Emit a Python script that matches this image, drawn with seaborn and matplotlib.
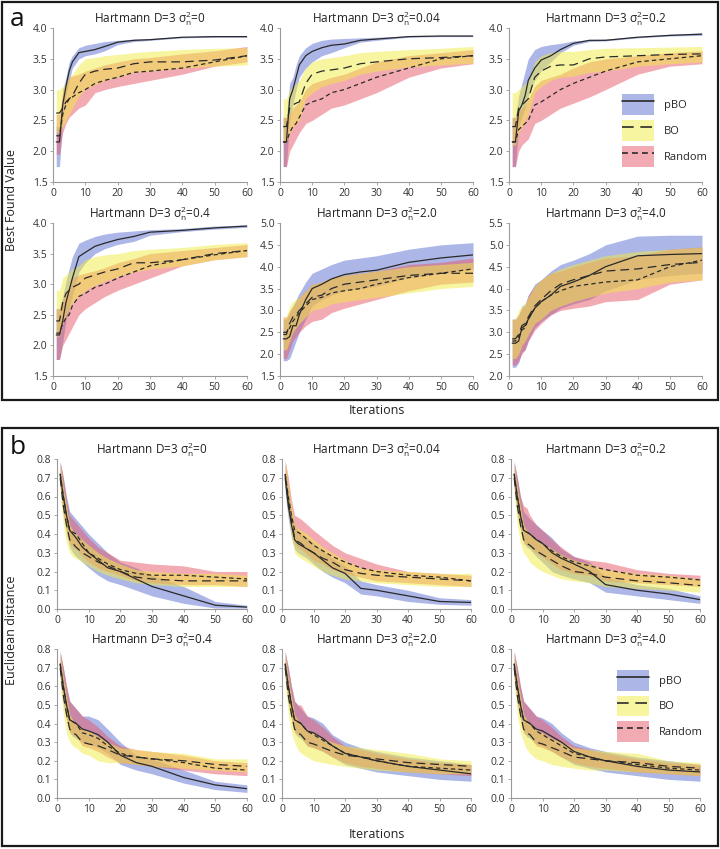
import matplotlib
matplotlib.use("Agg")
import matplotlib.pyplot as plt
import seaborn as sns
from matplotlib.patches import Patch, Rectangle
from matplotlib.lines import Line2D
from matplotlib.legend_handler import HandlerTuple

iters = [1, 2, 3, 4, 5, 6, 8, 10, 13, 16, 20, 25, 30, 40, 50, 60]

# ---- panel a : best found value ----
a0_pbo_m  = [2.15, 2.15, 2.75, 3.05, 3.30, 3.45, 3.60, 3.62, 3.65, 3.70, 3.77, 3.80, 3.81, 3.85, 3.86, 3.86]
a0_pbo_lo = [1.75, 1.75, 2.50, 2.90, 3.15, 3.35, 3.50, 3.55, 3.58, 3.63, 3.73, 3.78, 3.80, 3.84, 3.85, 3.85]
a0_pbo_hi = [2.40, 2.40, 3.00, 3.20, 3.45, 3.55, 3.68, 3.72, 3.75, 3.78, 3.80, 3.82, 3.83, 3.86, 3.87, 3.87]
a0_bo_m   = [2.62, 2.62, 2.70, 2.80, 2.85, 2.90, 3.10, 3.25, 3.30, 3.33, 3.35, 3.42, 3.45, 3.45, 3.48, 3.55]
a0_bo_lo  = [2.30, 2.30, 2.40, 2.50, 2.60, 2.70, 2.90, 3.00, 3.08, 3.15, 3.20, 3.28, 3.30, 3.35, 3.38, 3.40]
a0_bo_hi  = [3.00, 3.00, 3.05, 3.10, 3.20, 3.25, 3.40, 3.50, 3.52, 3.55, 3.57, 3.60, 3.62, 3.65, 3.67, 3.68]
a0_rnd_m  = [2.25, 2.25, 2.60, 2.75, 2.85, 2.88, 2.95, 3.00, 3.10, 3.15, 3.20, 3.28, 3.30, 3.35, 3.45, 3.55]
a0_rnd_lo = [1.95, 1.95, 2.30, 2.45, 2.55, 2.60, 2.70, 2.75, 2.95, 3.00, 3.05, 3.10, 3.15, 3.25, 3.38, 3.45]
a0_rnd_hi = [2.60, 2.60, 2.95, 3.10, 3.20, 3.22, 3.25, 3.30, 3.35, 3.40, 3.45, 3.50, 3.52, 3.58, 3.63, 3.70]

a1_pbo_m  = [2.15, 2.15, 2.85, 3.00, 3.20, 3.40, 3.55, 3.62, 3.68, 3.72, 3.74, 3.80, 3.82, 3.86, 3.87, 3.87]
a1_pbo_lo = [1.75, 1.75, 2.50, 2.75, 3.00, 3.20, 3.35, 3.45, 3.55, 3.60, 3.68, 3.77, 3.80, 3.85, 3.86, 3.86]
a1_pbo_hi = [2.55, 2.55, 3.10, 3.20, 3.40, 3.55, 3.68, 3.75, 3.80, 3.82, 3.83, 3.84, 3.85, 3.87, 3.88, 3.88]
a1_bo_m   = [2.40, 2.40, 2.70, 2.75, 2.78, 2.80, 3.10, 3.25, 3.30, 3.32, 3.35, 3.42, 3.45, 3.50, 3.52, 3.55]
a1_bo_lo  = [2.15, 2.15, 2.30, 2.40, 2.45, 2.50, 2.85, 2.95, 3.05, 3.10, 3.15, 3.25, 3.30, 3.37, 3.40, 3.43]
a1_bo_hi  = [2.85, 2.85, 3.00, 3.05, 3.10, 3.15, 3.35, 3.45, 3.50, 3.52, 3.55, 3.60, 3.62, 3.65, 3.67, 3.70]
a1_rnd_m  = [2.15, 2.15, 2.30, 2.40, 2.45, 2.55, 2.75, 2.80, 2.85, 2.95, 3.00, 3.10, 3.20, 3.35, 3.50, 3.55]
a1_rnd_lo = [1.75, 1.75, 2.00, 2.10, 2.20, 2.30, 2.45, 2.50, 2.60, 2.70, 2.75, 2.85, 2.95, 3.20, 3.35, 3.42]
a1_rnd_hi = [2.55, 2.55, 2.60, 2.70, 2.75, 2.80, 3.00, 3.10, 3.15, 3.20, 3.25, 3.35, 3.45, 3.55, 3.60, 3.65]

a2_pbo_m  = [2.15, 2.15, 2.65, 2.75, 2.90, 3.15, 3.35, 3.48, 3.55, 3.65, 3.75, 3.80, 3.80, 3.85, 3.88, 3.90]
a2_pbo_lo = [1.75, 1.75, 2.40, 2.55, 2.70, 2.90, 3.15, 3.30, 3.45, 3.60, 3.72, 3.78, 3.79, 3.84, 3.87, 3.88]
a2_pbo_hi = [2.55, 2.55, 2.90, 3.10, 3.30, 3.50, 3.65, 3.70, 3.73, 3.75, 3.79, 3.81, 3.82, 3.86, 3.90, 3.92]
a2_bo_m   = [2.40, 2.40, 2.70, 2.75, 2.80, 2.85, 3.20, 3.30, 3.38, 3.40, 3.40, 3.50, 3.53, 3.55, 3.57, 3.58]
a2_bo_lo  = [2.10, 2.10, 2.30, 2.40, 2.50, 2.60, 2.95, 3.05, 3.15, 3.20, 3.22, 3.28, 3.30, 3.38, 3.42, 3.45]
a2_bo_hi  = [2.95, 2.95, 3.00, 3.05, 3.10, 3.15, 3.45, 3.55, 3.60, 3.62, 3.62, 3.65, 3.67, 3.68, 3.69, 3.70]
a2_rnd_m  = [2.15, 2.15, 2.35, 2.40, 2.45, 2.50, 2.75, 2.80, 2.90, 3.00, 3.10, 3.20, 3.30, 3.45, 3.50, 3.55]
a2_rnd_lo = [1.75, 1.75, 2.00, 2.10, 2.15, 2.20, 2.45, 2.50, 2.60, 2.70, 2.78, 2.88, 3.00, 3.25, 3.38, 3.42]
a2_rnd_hi = [2.55, 2.55, 2.65, 2.70, 2.75, 2.85, 3.05, 3.15, 3.20, 3.25, 3.35, 3.45, 3.50, 3.55, 3.60, 3.63]

a3_pbo_m  = [2.17, 2.17, 2.40, 2.70, 2.90, 3.10, 3.45, 3.52, 3.62, 3.67, 3.73, 3.78, 3.85, 3.88, 3.92, 3.95]
a3_pbo_lo = [1.77, 1.77, 2.05, 2.40, 2.60, 2.80, 3.20, 3.35, 3.50, 3.58, 3.65, 3.70, 3.80, 3.86, 3.90, 3.93]
a3_pbo_hi = [2.60, 2.60, 2.80, 3.05, 3.25, 3.45, 3.67, 3.72, 3.78, 3.82, 3.85, 3.87, 3.89, 3.91, 3.95, 3.97]
a3_bo_m   = [2.40, 2.40, 2.70, 2.85, 2.90, 2.95, 3.00, 3.10, 3.15, 3.20, 3.25, 3.35, 3.35, 3.40, 3.50, 3.55]
a3_bo_lo  = [2.15, 2.15, 2.35, 2.50, 2.60, 2.70, 2.80, 2.90, 2.98, 3.05, 3.12, 3.20, 3.25, 3.30, 3.40, 3.45]
a3_bo_hi  = [2.90, 2.90, 3.10, 3.15, 3.20, 3.25, 3.30, 3.40, 3.45, 3.48, 3.50, 3.55, 3.57, 3.60, 3.65, 3.68]
a3_rnd_m  = [2.20, 2.20, 2.35, 2.45, 2.50, 2.65, 2.80, 2.85, 2.95, 3.00, 3.10, 3.20, 3.30, 3.40, 3.48, 3.55]
a3_rnd_lo = [1.77, 1.77, 2.00, 2.10, 2.20, 2.30, 2.50, 2.60, 2.70, 2.80, 2.90, 3.00, 3.10, 3.30, 3.40, 3.45]
a3_rnd_hi = [2.60, 2.60, 2.75, 2.85, 2.95, 3.10, 3.15, 3.18, 3.22, 3.27, 3.35, 3.42, 3.50, 3.55, 3.60, 3.65]

a4_pbo_m  = [2.35, 2.35, 2.40, 2.65, 2.65, 2.90, 3.25, 3.50, 3.60, 3.72, 3.82, 3.88, 3.92, 4.10, 4.20, 4.27]
a4_pbo_lo = [1.85, 1.85, 1.90, 2.10, 2.30, 2.50, 2.80, 3.10, 3.25, 3.35, 3.45, 3.50, 3.55, 3.75, 3.85, 3.95]
a4_pbo_hi = [2.80, 2.80, 2.95, 3.10, 3.25, 3.40, 3.65, 3.85, 3.95, 4.05, 4.15, 4.20, 4.25, 4.40, 4.50, 4.55]
a4_bo_m   = [2.45, 2.45, 2.70, 2.85, 2.90, 3.00, 3.15, 3.30, 3.35, 3.50, 3.60, 3.65, 3.70, 3.80, 3.85, 3.85]
a4_bo_lo  = [2.10, 2.10, 2.30, 2.50, 2.60, 2.70, 2.85, 3.00, 3.05, 3.15, 3.20, 3.25, 3.30, 3.40, 3.50, 3.55]
a4_bo_hi  = [2.85, 2.85, 3.10, 3.20, 3.25, 3.30, 3.45, 3.60, 3.65, 3.75, 3.80, 3.85, 3.90, 4.00, 4.05, 4.10]
a4_rnd_m  = [2.50, 2.50, 2.60, 2.75, 2.85, 2.95, 3.10, 3.25, 3.30, 3.40, 3.45, 3.50, 3.60, 3.75, 3.85, 3.95]
a4_rnd_lo = [1.90, 1.90, 2.10, 2.30, 2.40, 2.50, 2.65, 2.75, 2.80, 2.95, 3.05, 3.15, 3.25, 3.45, 3.60, 3.65]
a4_rnd_hi = [2.85, 2.85, 3.00, 3.10, 3.20, 3.30, 3.45, 3.60, 3.65, 3.75, 3.80, 3.85, 3.90, 4.05, 4.10, 4.20]

a5_pbo_m  = [2.75, 2.75, 2.80, 3.10, 3.15, 3.30, 3.55, 3.70, 3.85, 4.05, 4.15, 4.30, 4.50, 4.75, 4.78, 4.80]
a5_pbo_lo = [2.20, 2.20, 2.30, 2.55, 2.60, 2.80, 3.10, 3.25, 3.40, 3.55, 3.65, 3.75, 3.95, 4.20, 4.30, 4.35]
a5_pbo_hi = [3.30, 3.30, 3.40, 3.60, 3.65, 3.85, 4.10, 4.20, 4.40, 4.55, 4.65, 4.80, 5.00, 5.20, 5.22, 5.22]
a5_bo_m   = [2.85, 2.85, 2.95, 3.15, 3.20, 3.35, 3.60, 3.75, 3.95, 4.10, 4.20, 4.30, 4.40, 4.45, 4.55, 4.60]
a5_bo_lo  = [2.40, 2.40, 2.50, 2.70, 2.80, 2.95, 3.20, 3.30, 3.50, 3.60, 3.70, 3.80, 3.90, 4.00, 4.15, 4.20]
a5_bo_hi  = [3.30, 3.30, 3.50, 3.60, 3.65, 3.80, 4.05, 4.20, 4.35, 4.45, 4.55, 4.65, 4.75, 4.85, 4.90, 4.95]
a5_rnd_m  = [2.80, 2.80, 2.90, 3.05, 3.10, 3.30, 3.55, 3.70, 3.85, 3.95, 4.05, 4.10, 4.15, 4.20, 4.50, 4.65]
a5_rnd_lo = [2.25, 2.25, 2.35, 2.50, 2.60, 2.80, 3.05, 3.20, 3.40, 3.50, 3.55, 3.60, 3.70, 3.75, 4.10, 4.20]
a5_rnd_hi = [3.30, 3.30, 3.40, 3.55, 3.60, 3.85, 4.05, 4.20, 4.35, 4.40, 4.50, 4.60, 4.70, 4.75, 4.90, 4.95]

# ---- panel b : euclidean distance ----
b0_pbo_m  = [0.72, 0.60, 0.50, 0.42, 0.40, 0.38, 0.33, 0.30, 0.26, 0.22, 0.20, 0.16, 0.12, 0.07, 0.02, 0.01]
b0_pbo_lo = [0.65, 0.50, 0.40, 0.33, 0.30, 0.28, 0.25, 0.22, 0.18, 0.15, 0.13, 0.10, 0.07, 0.03, 0.005, 0.005]
b0_pbo_hi = [0.78, 0.70, 0.60, 0.52, 0.50, 0.48, 0.44, 0.40, 0.35, 0.30, 0.25, 0.22, 0.18, 0.12, 0.04, 0.02]
b0_bo_m   = [0.70, 0.55, 0.45, 0.37, 0.35, 0.33, 0.30, 0.28, 0.25, 0.23, 0.20, 0.17, 0.16, 0.15, 0.15, 0.15]
b0_bo_lo  = [0.62, 0.45, 0.35, 0.30, 0.28, 0.27, 0.25, 0.23, 0.20, 0.18, 0.16, 0.14, 0.13, 0.12, 0.12, 0.12]
b0_bo_hi  = [0.78, 0.65, 0.55, 0.45, 0.42, 0.40, 0.37, 0.34, 0.30, 0.27, 0.24, 0.21, 0.20, 0.19, 0.19, 0.18]
b0_rnd_m  = [0.72, 0.60, 0.50, 0.42, 0.41, 0.40, 0.35, 0.30, 0.27, 0.24, 0.21, 0.19, 0.18, 0.18, 0.17, 0.16]
b0_rnd_lo = [0.65, 0.50, 0.42, 0.35, 0.33, 0.32, 0.28, 0.25, 0.22, 0.20, 0.18, 0.15, 0.14, 0.13, 0.13, 0.12]
b0_rnd_hi = [0.79, 0.70, 0.58, 0.50, 0.48, 0.46, 0.42, 0.38, 0.33, 0.30, 0.26, 0.25, 0.24, 0.23, 0.20, 0.20]

b1_pbo_m  = [0.70, 0.55, 0.45, 0.37, 0.35, 0.34, 0.32, 0.30, 0.26, 0.22, 0.19, 0.11, 0.10, 0.07, 0.04, 0.035]
b1_pbo_lo = [0.62, 0.48, 0.38, 0.32, 0.30, 0.29, 0.27, 0.24, 0.20, 0.17, 0.14, 0.08, 0.07, 0.04, 0.025, 0.02]
b1_pbo_hi = [0.78, 0.65, 0.52, 0.45, 0.42, 0.40, 0.38, 0.35, 0.31, 0.27, 0.23, 0.15, 0.13, 0.10, 0.06, 0.05]
b1_bo_m   = [0.72, 0.58, 0.47, 0.38, 0.36, 0.35, 0.32, 0.30, 0.27, 0.25, 0.21, 0.19, 0.18, 0.17, 0.16, 0.15]
b1_bo_lo  = [0.65, 0.50, 0.38, 0.30, 0.28, 0.27, 0.25, 0.23, 0.20, 0.18, 0.16, 0.15, 0.14, 0.13, 0.12, 0.12]
b1_bo_hi  = [0.79, 0.67, 0.55, 0.45, 0.43, 0.42, 0.40, 0.37, 0.33, 0.30, 0.26, 0.22, 0.21, 0.20, 0.19, 0.19]
b1_rnd_m  = [0.72, 0.60, 0.50, 0.42, 0.41, 0.40, 0.37, 0.34, 0.31, 0.28, 0.25, 0.22, 0.20, 0.18, 0.17, 0.15]
b1_rnd_lo = [0.65, 0.52, 0.42, 0.35, 0.33, 0.32, 0.29, 0.26, 0.24, 0.21, 0.19, 0.17, 0.15, 0.14, 0.13, 0.12]
b1_rnd_hi = [0.79, 0.70, 0.58, 0.50, 0.49, 0.48, 0.45, 0.42, 0.38, 0.34, 0.30, 0.27, 0.24, 0.20, 0.19, 0.18]

b2_pbo_m  = [0.72, 0.60, 0.50, 0.42, 0.41, 0.40, 0.37, 0.35, 0.30, 0.27, 0.24, 0.20, 0.13, 0.10, 0.08, 0.05]
b2_pbo_lo = [0.65, 0.50, 0.42, 0.35, 0.33, 0.32, 0.28, 0.25, 0.20, 0.18, 0.16, 0.14, 0.09, 0.07, 0.05, 0.03]
b2_pbo_hi = [0.78, 0.70, 0.60, 0.52, 0.50, 0.48, 0.45, 0.42, 0.38, 0.32, 0.28, 0.25, 0.17, 0.13, 0.11, 0.07]
b2_bo_m   = [0.70, 0.55, 0.45, 0.37, 0.35, 0.34, 0.31, 0.29, 0.26, 0.23, 0.20, 0.19, 0.17, 0.15, 0.14, 0.125]
b2_bo_lo  = [0.62, 0.45, 0.35, 0.30, 0.28, 0.25, 0.22, 0.20, 0.18, 0.16, 0.15, 0.14, 0.12, 0.11, 0.10, 0.09]
b2_bo_hi  = [0.78, 0.65, 0.55, 0.45, 0.42, 0.40, 0.37, 0.35, 0.32, 0.29, 0.26, 0.24, 0.21, 0.19, 0.18, 0.16]
b2_rnd_m  = [0.72, 0.60, 0.50, 0.42, 0.41, 0.40, 0.37, 0.35, 0.31, 0.28, 0.25, 0.23, 0.21, 0.18, 0.17, 0.155]
b2_rnd_lo = [0.65, 0.52, 0.43, 0.36, 0.34, 0.33, 0.30, 0.28, 0.24, 0.21, 0.19, 0.18, 0.15, 0.14, 0.13, 0.12]
b2_rnd_hi = [0.79, 0.70, 0.60, 0.55, 0.54, 0.50, 0.45, 0.42, 0.37, 0.33, 0.28, 0.26, 0.25, 0.21, 0.19, 0.18]

b3_pbo_m  = [0.72, 0.60, 0.50, 0.42, 0.41, 0.40, 0.37, 0.36, 0.34, 0.30, 0.23, 0.19, 0.17, 0.11, 0.07, 0.05]
b3_pbo_lo = [0.65, 0.50, 0.42, 0.35, 0.33, 0.32, 0.30, 0.29, 0.27, 0.24, 0.18, 0.15, 0.13, 0.08, 0.045, 0.03]
b3_pbo_hi = [0.78, 0.70, 0.60, 0.52, 0.50, 0.48, 0.44, 0.44, 0.42, 0.37, 0.30, 0.23, 0.21, 0.15, 0.09, 0.07]
b3_bo_m   = [0.70, 0.55, 0.45, 0.37, 0.35, 0.34, 0.30, 0.29, 0.28, 0.26, 0.23, 0.22, 0.21, 0.20, 0.18, 0.17]
b3_bo_lo  = [0.62, 0.45, 0.35, 0.30, 0.28, 0.27, 0.24, 0.23, 0.20, 0.19, 0.19, 0.18, 0.17, 0.16, 0.15, 0.14]
b3_bo_hi  = [0.78, 0.65, 0.55, 0.45, 0.42, 0.40, 0.37, 0.36, 0.33, 0.30, 0.27, 0.26, 0.25, 0.24, 0.21, 0.21]
b3_rnd_m  = [0.72, 0.60, 0.50, 0.42, 0.41, 0.40, 0.35, 0.34, 0.32, 0.28, 0.24, 0.22, 0.21, 0.19, 0.16, 0.15]
b3_rnd_lo = [0.65, 0.52, 0.43, 0.36, 0.34, 0.33, 0.28, 0.27, 0.25, 0.22, 0.19, 0.18, 0.17, 0.15, 0.13, 0.12]
b3_rnd_hi = [0.79, 0.70, 0.60, 0.52, 0.50, 0.48, 0.44, 0.42, 0.38, 0.33, 0.28, 0.26, 0.25, 0.23, 0.20, 0.19]

b4_pbo_m  = [0.72, 0.60, 0.50, 0.42, 0.41, 0.40, 0.36, 0.35, 0.32, 0.28, 0.24, 0.22, 0.20, 0.17, 0.15, 0.13]
b4_pbo_lo = [0.65, 0.50, 0.42, 0.35, 0.33, 0.32, 0.28, 0.27, 0.25, 0.22, 0.18, 0.16, 0.14, 0.12, 0.10, 0.09]
b4_pbo_hi = [0.78, 0.70, 0.60, 0.52, 0.50, 0.48, 0.44, 0.43, 0.40, 0.34, 0.30, 0.27, 0.25, 0.22, 0.20, 0.18]
b4_bo_m   = [0.70, 0.55, 0.45, 0.37, 0.35, 0.34, 0.30, 0.29, 0.27, 0.25, 0.23, 0.22, 0.21, 0.19, 0.18, 0.17]
b4_bo_lo  = [0.62, 0.45, 0.35, 0.30, 0.26, 0.24, 0.22, 0.20, 0.19, 0.18, 0.17, 0.16, 0.15, 0.14, 0.13, 0.13]
b4_bo_hi  = [0.78, 0.65, 0.55, 0.45, 0.42, 0.40, 0.37, 0.35, 0.32, 0.30, 0.28, 0.27, 0.26, 0.24, 0.21, 0.20]
b4_rnd_m  = [0.72, 0.60, 0.50, 0.42, 0.41, 0.40, 0.36, 0.34, 0.31, 0.28, 0.24, 0.22, 0.20, 0.17, 0.16, 0.15]
b4_rnd_lo = [0.65, 0.52, 0.43, 0.36, 0.34, 0.33, 0.28, 0.27, 0.25, 0.22, 0.19, 0.17, 0.16, 0.14, 0.13, 0.12]
b4_rnd_hi = [0.79, 0.70, 0.60, 0.52, 0.50, 0.50, 0.44, 0.42, 0.38, 0.33, 0.28, 0.26, 0.24, 0.21, 0.19, 0.18]

b5_pbo_m  = [0.72, 0.60, 0.50, 0.42, 0.41, 0.40, 0.37, 0.36, 0.33, 0.30, 0.25, 0.22, 0.20, 0.17, 0.15, 0.14]
b5_pbo_lo = [0.65, 0.50, 0.42, 0.35, 0.33, 0.32, 0.29, 0.28, 0.25, 0.22, 0.18, 0.16, 0.14, 0.12, 0.10, 0.09]
b5_pbo_hi = [0.78, 0.70, 0.60, 0.52, 0.50, 0.48, 0.44, 0.43, 0.40, 0.35, 0.30, 0.27, 0.25, 0.22, 0.20, 0.18]
b5_bo_m   = [0.70, 0.55, 0.45, 0.37, 0.35, 0.34, 0.30, 0.29, 0.27, 0.25, 0.22, 0.21, 0.20, 0.19, 0.17, 0.16]
b5_bo_lo  = [0.62, 0.45, 0.35, 0.30, 0.26, 0.24, 0.21, 0.20, 0.18, 0.17, 0.16, 0.15, 0.15, 0.14, 0.13, 0.12]
b5_bo_hi  = [0.78, 0.65, 0.55, 0.45, 0.42, 0.40, 0.37, 0.35, 0.32, 0.30, 0.27, 0.26, 0.25, 0.24, 0.20, 0.19]
b5_rnd_m  = [0.72, 0.60, 0.50, 0.42, 0.41, 0.40, 0.36, 0.34, 0.31, 0.28, 0.24, 0.22, 0.20, 0.18, 0.16, 0.15]
b5_rnd_lo = [0.65, 0.52, 0.43, 0.36, 0.34, 0.33, 0.28, 0.27, 0.25, 0.22, 0.19, 0.17, 0.16, 0.14, 0.13, 0.12]
b5_rnd_hi = [0.79, 0.70, 0.60, 0.52, 0.50, 0.48, 0.44, 0.42, 0.38, 0.33, 0.28, 0.26, 0.24, 0.21, 0.19, 0.18]

noise_labels = ["0", "0.04", "0.2", "0.4", "2.0", "4.0"]
methods = ["pBO", "BO", "Random"]

sns.set_style("ticks")
plt.rcParams["font.family"] = ["Open Sans", "DejaVu Sans"]
plt.rcParams["mathtext.fontset"] = "dejavusans"
plt.rcParams["mathtext.default"] = "regular"

fill_col = {"pBO": "#5a6fd0", "BO": "#f0ec40", "Random": "#e85868"}
line_style = {"pBO": "-", "BO": (0, (7, 4)), "Random": (0, (3.5, 2.5))}
line_col = "#2a2a2a"
draw_order = ["pBO", "Random", "BO"]

fig = plt.figure(figsize=(7.2, 8.49), dpi=100)
W, H = 720, 849


def px_axes(x0, x1, y0, y1):
    return fig.add_axes([x0 / W, 1 - y1 / H, (x1 - x0) / W, (y1 - y0) / H])


def draw_panel(ax, data, ylim, yticks, title):
    for m in draw_order:
        mean, lo, hi = data[m]
        ax.fill_between(iters, lo, hi, color=fill_col[m], alpha=0.5, lw=0)
    for m in draw_order:
        mean, lo, hi = data[m]
        sns.lineplot(x=iters, y=mean, ax=ax, color=line_col, lw=0.9,
                     linestyle=line_style[m])
    ax.set_xlim(0, 60)
    ax.set_ylim(*ylim)
    ax.set_xticks(range(0, 61, 10))
    ax.set_yticks(yticks)
    ax.set_yticklabels(["{:.1f}".format(v) for v in yticks])
    sns.despine(ax=ax)
    for s in ["left", "bottom"]:
        ax.spines[s].set_color("#9a9a9a")
        ax.spines[s].set_linewidth(0.8)
    ax.tick_params(length=2.5, width=0.6, color="#9a9a9a", labelsize=7.5,
                   labelcolor="#333333", pad=1.5)
    ax.set_title(title, fontsize=8.5, color="#222222", pad=3)


a_sets = [
    (a0_pbo_m, a0_pbo_lo, a0_pbo_hi, a0_bo_m, a0_bo_lo, a0_bo_hi, a0_rnd_m, a0_rnd_lo, a0_rnd_hi),
    (a1_pbo_m, a1_pbo_lo, a1_pbo_hi, a1_bo_m, a1_bo_lo, a1_bo_hi, a1_rnd_m, a1_rnd_lo, a1_rnd_hi),
    (a2_pbo_m, a2_pbo_lo, a2_pbo_hi, a2_bo_m, a2_bo_lo, a2_bo_hi, a2_rnd_m, a2_rnd_lo, a2_rnd_hi),
    (a3_pbo_m, a3_pbo_lo, a3_pbo_hi, a3_bo_m, a3_bo_lo, a3_bo_hi, a3_rnd_m, a3_rnd_lo, a3_rnd_hi),
    (a4_pbo_m, a4_pbo_lo, a4_pbo_hi, a4_bo_m, a4_bo_lo, a4_bo_hi, a4_rnd_m, a4_rnd_lo, a4_rnd_hi),
    (a5_pbo_m, a5_pbo_lo, a5_pbo_hi, a5_bo_m, a5_bo_lo, a5_bo_hi, a5_rnd_m, a5_rnd_lo, a5_rnd_hi),
]
b_sets = [
    (b0_pbo_m, b0_pbo_lo, b0_pbo_hi, b0_bo_m, b0_bo_lo, b0_bo_hi, b0_rnd_m, b0_rnd_lo, b0_rnd_hi),
    (b1_pbo_m, b1_pbo_lo, b1_pbo_hi, b1_bo_m, b1_bo_lo, b1_bo_hi, b1_rnd_m, b1_rnd_lo, b1_rnd_hi),
    (b2_pbo_m, b2_pbo_lo, b2_pbo_hi, b2_bo_m, b2_bo_lo, b2_bo_hi, b2_rnd_m, b2_rnd_lo, b2_rnd_hi),
    (b3_pbo_m, b3_pbo_lo, b3_pbo_hi, b3_bo_m, b3_bo_lo, b3_bo_hi, b3_rnd_m, b3_rnd_lo, b3_rnd_hi),
    (b4_pbo_m, b4_pbo_lo, b4_pbo_hi, b4_bo_m, b4_bo_lo, b4_bo_hi, b4_rnd_m, b4_rnd_lo, b4_rnd_hi),
    (b5_pbo_m, b5_pbo_lo, b5_pbo_hi, b5_bo_m, b5_bo_lo, b5_bo_hi, b5_rnd_m, b5_rnd_lo, b5_rnd_hi),
]


def as_dict(t):
    return {"pBO": t[0:3], "BO": t[3:6], "Random": t[6:9]}


a_cols = [(53, 247), (280, 473), (509, 702)]
a_rows = [(28, 182), (223, 376)]
a_ylims = [(1.5, 4.0)] * 4 + [(1.5, 5.0), (2.0, 5.5)]

b_cols = [(57, 247), (282, 471), (511, 700)]
b_rows = [(459, 609), (649, 798)]

legend_handles = [(Patch(facecolor=fill_col[m], alpha=0.5, lw=0),
                   Line2D([], [], color=line_col, lw=1.2, linestyle=line_style[m]))
                  for m in methods]


def add_legend(ax, anchor):
    ax.legend(legend_handles, methods, handler_map={tuple: HandlerTuple(ndivide=1)},
              frameon=False, fontsize=8, handlelength=2.9, handleheight=2.5,
              labelspacing=0.45, handletextpad=0.9, borderpad=0, borderaxespad=0,
              loc="upper left", bbox_to_anchor=anchor)


for i in range(6):
    r, c = divmod(i, 3)
    title = "Hartmann D=3 $\\sigma^2_n$=" + noise_labels[i]

    ax = px_axes(a_cols[c][0], a_cols[c][1], a_rows[r][0], a_rows[r][1])
    lo, hi = a_ylims[i]
    ticks = [lo + 0.5 * k for k in range(int(round((hi - lo) / 0.5)) + 1)]
    draw_panel(ax, as_dict(a_sets[i]), a_ylims[i], ticks, title)
    if i == 2:
        add_legend(ax, (0.585, 0.57))

    ax = px_axes(b_cols[c][0], b_cols[c][1], b_rows[r][0], b_rows[r][1])
    ticks = [k / 10 for k in range(9)]
    draw_panel(ax, as_dict(b_sets[i]), (0, 0.8), ticks, title)
    if i == 5:
        add_legend(ax, (0.56, 0.86))

# panel boxes and shared labels
for (y0, y1) in [(2, 400), (428, 846)]:
    fig.add_artist(Rectangle((2 / W, 1 - y1 / H), 716 / W, (y1 - y0) / H,
                             transform=fig.transFigure, fill=False, lw=1.6, ec="#1a1a1a"))

fig.text(10 / W, 1 - 20 / H, "a", fontsize=19, va="center", ha="left", color="#111111")
fig.text(10 / W, 1 - 448 / H, "b", fontsize=19, va="center", ha="left", color="#111111")
fig.text(12 / W, 1 - 200 / H, "Best Found Value", rotation=90, fontsize=9,
         va="center", ha="center", color="#222222")
fig.text(12 / W, 1 - 630 / H, "Euclidean distance", rotation=90, fontsize=9,
         va="center", ha="center", color="#222222")
fig.text(377 / W, 1 - 411 / H, "Iterations", fontsize=9, va="center", ha="center",
         color="#222222")
fig.text(377 / W, 1 - 835 / H, "Iterations", fontsize=9, va="center", ha="center",
         color="#222222")

fig.savefig("out.png", dpi=100, facecolor="white")
